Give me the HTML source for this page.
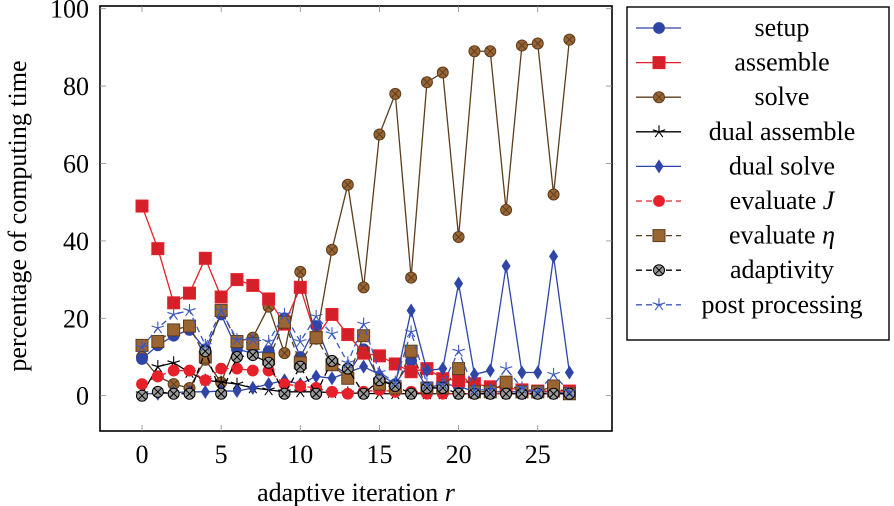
<!DOCTYPE html>
<html><head><meta charset="utf-8"><style>
body{margin:0;background:#fff;}
svg{display:block;}
svg text{font-family:"Liberation Serif","DejaVu Serif",serif;}
</style></head><body>
<svg id="chart" width="894" height="506" viewBox="0 0 894 506"></svg>
<script>
const iterations=[0,1,2,3,4,5,6,7,8,9,10,11,12,13,14,15,16,17,18,19,20,21,22,23,24,25,26,27];
const setupVals=[9.5,13,15.5,17,12,21,12,11,11.5,20,10,18,8,5.5,12,4,3,9,2,3,2.5,1,1,1,1,1,1,0.5];
const assembleVals=[49,38,24,26.5,35.5,25.5,30,28.5,25,18.5,28,15,21,15.8,11,10.3,8.2,6.2,7,4.4,3.9,3.1,2.3,2,1.5,1.2,1.2,1.2];
const solveVals=[10,5,3,2,9.3,3.4,14,15,23,11,32,14.7,37.7,54.5,28,67.5,78,30.5,81,83.5,41,89,89,48,90.5,91,52,92];
const dualAssembleVals=[0.5,7.5,8.5,6,4,3.5,3,2,1.5,1,1,1,0.8,0.7,0.6,0.5,0.5,0.5,0.5,0.5,0.5,0.5,0.5,0.5,0.5,0.5,0.5,0.5];
const dualSolveVals=[0.5,0.5,0.8,1,1,1.2,1.2,2,3,4,3,5,4.5,6,7.5,5.5,3,22,6.5,7,29,5.5,6.5,33.5,6,6,36,6];
const evalJVals=[3,5,6.5,6.5,4,7,7,6.5,6.5,3,2.5,2,1,0.5,1,1.5,1,1,0.5,0.5,0.5,0.5,0.5,0.5,0.5,0.5,0.5,0.5];
const evalEtaVals=[13,14,17,18,10,22,14,13.5,9.5,19,8.5,15,8,4.5,15.5,3,2,11.5,2,2,7,1,1,3.5,1,1,2.5,0.5];
const adaptVals=[0,1,0.5,0.5,11.5,0.5,10,10.5,8.5,0.5,7.5,0.5,9,7,0.5,4,2.5,0.5,2,2,0.5,0.5,0.5,0.5,0.5,0.5,0.5,0.5];
const postVals=[12.5,17.5,21,22,13,22,14.5,14.5,14,21,14,20.5,16,8.5,18.5,6,3.5,16.5,3,3,11.5,1.5,1.5,7,2,1,5.5,1];
const xTicks=[0,5,10,15,20,25];
const yTicks=[0,20,40,60,80,100];
const seriesNames=["setup","assemble","solve","dual assemble","dual solve","evaluate J","evaluate η","adaptivity","post processing"];

const NS="http://www.w3.org/2000/svg";
const FONT='"Liberation Serif","DejaVu Serif",serif';
const svg=document.getElementById('chart');
function X(v){return 142+v*15.83;}
function Y(v){return 395.7-v*3.87;}
function mk(tag,attrs,parent){const e=document.createElementNS(NS,tag);for(const k in attrs)e.setAttribute(k,attrs[k]);if(tag==='text')e.setAttribute('font-family',FONT);(parent||svg).appendChild(e);return e;}

const frame=mk('rect',{x:100,y:6,width:512,height:425,fill:'none',stroke:'#000','stroke-width':1.6});


xTicks.forEach(t=>{
  const l=mk('line',{x1:X(t),x2:X(t),y1:431,y2:425,stroke:'#888','stroke-width':0.8});
  
  
  const l2=mk('line',{x1:X(t),x2:X(t),y1:6,y2:12,stroke:'#888','stroke-width':0.8});
  
  
  const tx=mk('text',{x:X(t),y:463,'text-anchor':'middle','font-size':26});
  tx.textContent=t;
  
  
});
yTicks.forEach(t=>{
  const l=mk('line',{x1:100,x2:106,y1:Y(t),y2:Y(t),stroke:'#888','stroke-width':0.8});
  
  
  const l2=mk('line',{x1:606,x2:612,y1:Y(t),y2:Y(t),stroke:'#888','stroke-width':0.8});
  
  
  const tx=mk('text',{x:89,y:Y(t)+9,'text-anchor':'end','font-size':26});
  tx.textContent=t;
  
  
});
const xt=mk('text',{x:356,y:501,'text-anchor':'middle','font-size':26});
xt.innerHTML='adaptive iteration <tspan font-style="italic">r</tspan>';


const yt=mk('text',{x:0,y:0,'text-anchor':'middle','font-size':26,transform:'translate(26,216) rotate(-90)'});
yt.textContent='percentage of computing time';



function marker(g,type,x,y,color,fill){
  if(type==='circle'){mk('circle',{cx:x,cy:y,r:5.5,fill:color,stroke:color,'stroke-width':0.8},g);}
  else if(type==='square'){mk('rect',{x:x-6,y:y-6,width:12,height:12,fill:fill,stroke:color,'stroke-width':1},g);}
  else if(type==='ocircle'){mk('circle',{cx:x,cy:y,r:5.5,fill:fill,stroke:color,'stroke-width':1},g);
    mk('path',{d:`M${x-3.9} ${y-3.9}L${x+3.9} ${y+3.9}M${x-3.9} ${y+3.9}L${x+3.9} ${y-3.9}`,stroke:color,'stroke-width':1},g);}
  else if(type==='diamond'){mk('path',{d:`M${x} ${y-7}L${x+4.5} ${y}L${x} ${y+7}L${x-4.5} ${y}Z`,fill:color},g);}
  else if(type==='star'||type==='bstar'){let d='';for(let k=0;k<5;k++){const a=-Math.PI/2+k*2*Math.PI/5;d+=`M${x} ${y}L${x+6.5*Math.cos(a)} ${y+6.5*Math.sin(a)}`;}
    mk('path',{d:d,stroke:color,'stroke-width':1.1,fill:'none'},g);}
}
const series=[
 {vals:setupVals,color:'#2f45a8',fill:'#2f45a8',m:'circle',dash:''},
 {vals:assembleVals,color:'#e8202a',fill:'#d42029',m:'square',dash:''},
 {vals:solveVals,color:'#5c3d1e',fill:'#9b6532',m:'ocircle',dash:''},
 {vals:dualAssembleVals,color:'#000',fill:'#000',m:'star',dash:''},
 {vals:dualSolveVals,color:'#2f45a8',fill:'#2f45a8',m:'diamond',dash:''},
 {vals:evalJVals,color:'#e8202a',fill:'#e8202a',m:'circle',dash:'6 4'},
 {vals:evalEtaVals,color:'#5c3d1e',fill:'#9b6532',m:'square',dash:'6 4'},
 {vals:adaptVals,color:'#000',fill:'#999',m:'ocircle',dash:'6 4'},
 {vals:postVals,color:'#3a58c0',fill:'#3a58c0',m:'bstar',dash:'6 4'}
];
const drawOrder=[2,0,1,3,4,5,6,7,8];
drawOrder.forEach(si=>{
  const s=series[si];
  const g=mk('g',{});
  
  
  const pts=s.vals.map((v,i)=>X(iterations[i])+','+Y(v)).join(' ');
  mk('polyline',{points:pts,fill:'none',stroke:s.color,'stroke-width':1.3,'stroke-dasharray':s.dash},g);
  s.vals.forEach((v,i)=>marker(g,s.m,X(iterations[i]),Y(v),s.color,s.fill));
});

const lg=mk('g',{});


mk('rect',{x:627,y:7,width:262,height:333,fill:'#fff',stroke:'#000','stroke-width':1.4},lg);
series.forEach((s,i)=>{
  const y=28+i*34.6;
  const e=mk('g',{},lg);
  
  
  mk('line',{x1:636,x2:681,y1:y,y2:y,stroke:s.color,'stroke-width':1.3,'stroke-dasharray':s.dash},e);
  marker(e,s.m,659,y,s.color,s.fill);
  const t=mk('text',{x:782,y:y+8,'text-anchor':'middle','font-size':26},e);
  if(i===5)t.innerHTML='evaluate <tspan font-style="italic">J</tspan>';
  else if(i===6)t.innerHTML='evaluate <tspan font-style="italic">η</tspan>';
  else t.textContent=seriesNames[i];
});
</script>
</body></html>
